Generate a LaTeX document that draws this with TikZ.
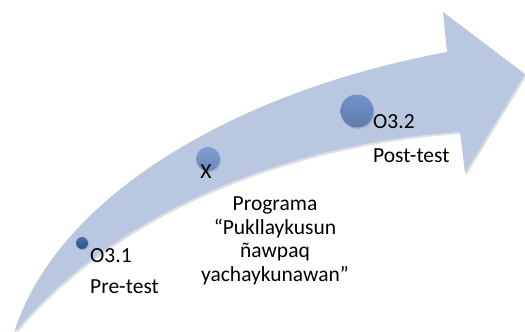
\documentclass[tikz,border=0pt]{standalone}
\usepackage{fontspec}
\setmainfont{Carlito}
\usepackage{tikz}
\usetikzlibrary{shadows,positioning}

\definecolor{bandblue}{RGB}{185,199,224}
\definecolor{darkdot}{RGB}{40,86,146}
\definecolor{middot}{RGB}{126,158,210}
\definecolor{bigdot}{RGB}{114,146,202}

\begin{document}
\begin{tikzpicture}[x=1pt,y=-1pt,
    dot/.style={circle, inner sep=0pt, drop shadow={opacity=0.3,shadow xshift=1pt,shadow yshift=-1.5pt}},
    lbl/.style={inner sep=0pt, font=\fontsize{21.5}{23.5}\selectfont}]
    \useasboundingbox (0,0) rectangle (525,332);
    % curved arrow
    \fill[bandblue, drop shadow={opacity=0.25,shadow xshift=1.5pt,shadow yshift=-2pt}]
        (14,333) .. controls (55,200) and (230,92) .. (447,52)
        -- (443,12) -- (525,74) -- (465,173) -- (460,132)
        .. controls (300,142) and (120,205) .. (14,333) -- cycle;
    % points on the line
    \node[dot, minimum size=12pt, top color=darkdot!85!white, bottom color=darkdot] (pre) at (82,243) {};
    \node[dot, minimum size=24pt, top color=middot, bottom color=middot!85!black] (prog) at (208,159) {};
    \node[dot, minimum size=33pt, top color=bigdot, bottom color=bigdot!85!black] (post) at (357,111) {};
    % labels
    \node[lbl, anchor=base west] (o31) at (90,262) {O3.1};
    \node[lbl, anchor=base west] (pretest) at (90,293) {Pre-test};
    \node[lbl, anchor=base] (x) at (206,178) {X};
    \node[lbl, anchor=base west] (o32) at (373,128) {O3.2};
    \node[lbl, anchor=base west] (posttest) at (373,162) {Post-test};
    \node[lbl, anchor=north, align=center] (programa) at (275,197)
        {Programa\\“Pukllaykusun\\ñawpaq\\yachaykunawan”};
\end{tikzpicture}
\end{document}
